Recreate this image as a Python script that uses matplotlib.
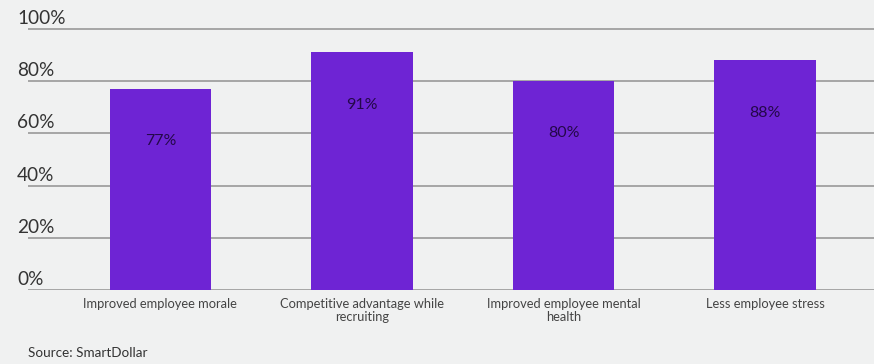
import matplotlib
matplotlib.use("Agg")
import matplotlib.pyplot as plt
import matplotlib.transforms as mtransforms

categories = ["Improved employee morale", "Competitive advantage while\nrecruiting",
              "Improved employee mental\nhealth", "Less employee stress"]
values = [77, 91, 80, 88]
value_labels = ["77%", "91%", "80%", "88%"]
yticks = [0, 20, 40, 60, 80, 100]
ytick_labels = ["0%", "20%", "40%", "60%", "80%", "100%"]
source = "Source: SmartDollar"

bg = "#f0f1f1"
bar_color = "#6e24d4"
plt.rcParams['font.family'] = ['Lato', 'DejaVu Sans']

fig = plt.figure(figsize=(8.74, 3.64), dpi=100, facecolor=bg)
W, H = 874, 364
y0_px, y100_px = 290, 29
ppu = (y0_px - y100_px) / 100.0
top_val = 101
ax = fig.add_axes([28 / W, 1 - y0_px / H, 1 - 28 / W, (y0_px - (y100_px - ppu)) / H])
ax.set_facecolor(bg)
ax.set_ylim(0, top_val)
ax.set_xlim(-0.657, 3.54)

for v in yticks:
    ax.axhline(v, color="#a5a5a5", lw=1.4, zorder=1)

x = list(range(len(categories)))
ax.bar(x, values, width=0.505, color=bar_color, zorder=2)

for xi, v, lab in zip(x, values, value_labels):
    ax.text(xi, v - 20, lab, ha="center", va="center", fontsize=11.5, color="#24084a", zorder=3)

trans = mtransforms.blended_transform_factory(fig.transFigure, ax.transData)
for v, lab in zip(yticks, ytick_labels):
    ax.text(17 / W, v + 0.8, lab, transform=trans, ha="left", va="bottom",
            fontsize=13.7, color="#333333")

ax.set_xticks(x)
ax.set_xticklabels(categories, fontsize=9.3, color="#444444", linespacing=1.1)
ax.tick_params(axis="x", length=0, pad=6)
ax.set_yticks([])
for s in ax.spines.values():
    s.set_visible(False)

fig.text(28 / W, 1 - 353 / H, source, ha="left", va="center", fontsize=9.7, color="#333333")

fig.savefig("out.png", dpi=100, facecolor=bg)
